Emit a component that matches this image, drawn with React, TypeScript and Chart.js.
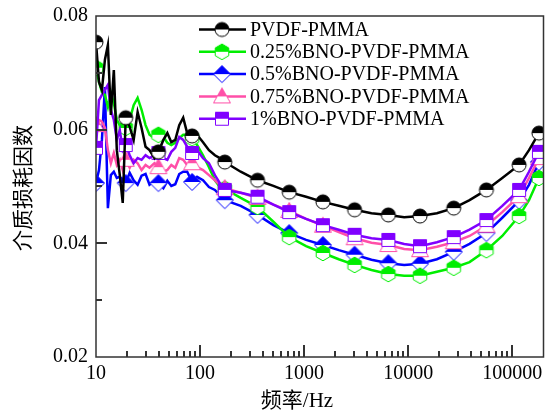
import React, { useEffect, useRef } from 'react';
import { Chart, registerables } from 'chart.js';

Chart.register(...registerables);

const frequencies = [10, 10.68, 11.4, 12.18, 13.01, 13.89, 14.84, 15.85, 16.93, 18.07, 19.31, 21.08, 23.01, 25.12, 27.42, 29.94, 32.68, 36.47, 39.81, 44.43, 48.5, 52.95, 57.8, 63.1, 68.88, 75.2, 83.92, 93.64, 106.8, 121.8, 138.9, 155.1, 173, 245.8, 356.8, 506.7, 719.7, 1045, 1517, 2154, 3059, 4443, 6450, 9161, 13010, 18890, 27420, 38950, 56550, 80300, 116600, 145100, 180700];

const pvdfPmma = [0.0754, 0.0684, 0.0670, 0.0723, 0.0749, 0.0626, 0.0705, 0.0564, 0.0520, 0.0471, 0.0621, 0.0605, 0.0582, 0.0631, 0.0603, 0.0570, 0.0564, 0.0550, 0.0561, 0.0582, 0.0594, 0.0578, 0.0582, 0.0608, 0.0621, 0.0594, 0.0589, 0.0591, 0.0578, 0.0564, 0.0555, 0.0550, 0.0543, 0.0526, 0.0511, 0.0501, 0.0490, 0.0482, 0.0473, 0.0466, 0.0459, 0.0453, 0.0450, 0.0446, 0.0448, 0.0453, 0.0462, 0.0476, 0.0494, 0.0515, 0.0538, 0.0564, 0.0594];
const bno025 = [0.0709, 0.0684, 0.0666, 0.0661, 0.0640, 0.0665, 0.0647, 0.0617, 0.0608, 0.0599, 0.0603, 0.0617, 0.0643, 0.0656, 0.0635, 0.0608, 0.0591, 0.0585, 0.0591, 0.0587, 0.0577, 0.0573, 0.0577, 0.0585, 0.0591, 0.0591, 0.0585, 0.0573, 0.0555, 0.0534, 0.0511, 0.0499, 0.0496, 0.0480, 0.0464, 0.0438, 0.0411, 0.0395, 0.0383, 0.0372, 0.0362, 0.0353, 0.0346, 0.0343, 0.0343, 0.0350, 0.0357, 0.0367, 0.0388, 0.0413, 0.0448, 0.0476, 0.0515];
const bno05 = [0.0506, 0.0529, 0.0582, 0.0675, 0.0462, 0.0520, 0.0526, 0.0515, 0.0517, 0.0511, 0.0506, 0.0524, 0.0511, 0.0503, 0.0519, 0.0522, 0.0503, 0.0510, 0.0506, 0.0497, 0.0510, 0.0501, 0.0504, 0.0522, 0.0526, 0.0526, 0.0508, 0.0517, 0.0511, 0.0499, 0.0494, 0.0485, 0.0476, 0.0466, 0.0450, 0.0432, 0.0418, 0.0406, 0.0397, 0.0388, 0.0380, 0.0371, 0.0365, 0.0362, 0.0364, 0.0372, 0.0385, 0.0399, 0.0418, 0.0445, 0.0475, 0.0503, 0.0543];
const bno075 = [0.0608, 0.0617, 0.0614, 0.0603, 0.0564, 0.0541, 0.0559, 0.0538, 0.0547, 0.0529, 0.0547, 0.0533, 0.0547, 0.0541, 0.0529, 0.0538, 0.0533, 0.0541, 0.0534, 0.0526, 0.0529, 0.0538, 0.0533, 0.0550, 0.0547, 0.0538, 0.0541, 0.0534, 0.0529, 0.0520, 0.0511, 0.0503, 0.0497, 0.0489, 0.0480, 0.0468, 0.0457, 0.0443, 0.0431, 0.0420, 0.0409, 0.0401, 0.0397, 0.0390, 0.0388, 0.0394, 0.0402, 0.0413, 0.0431, 0.0455, 0.0483, 0.0515, 0.0550];
const bno1 = [0.0568, 0.0652, 0.0661, 0.0670, 0.0679, 0.0635, 0.0617, 0.0582, 0.0599, 0.0564, 0.0573, 0.0555, 0.0541, 0.0550, 0.0547, 0.0555, 0.0550, 0.0555, 0.0559, 0.0550, 0.0547, 0.0561, 0.0568, 0.0587, 0.0582, 0.0570, 0.0559, 0.0564, 0.0550, 0.0541, 0.0520, 0.0506, 0.0494, 0.0489, 0.0482, 0.0468, 0.0455, 0.0443, 0.0432, 0.0424, 0.0415, 0.0409, 0.0406, 0.0399, 0.0395, 0.0402, 0.0411, 0.0424, 0.0441, 0.0466, 0.0494, 0.0526, 0.0561];

const markerIndices = [0, 10, 18, 26, 32, 34, 36, 38, 40, 42, 44, 46, 48, 50, 52];

const seriesLabels = ['PVDF-PMMA', '0.25%BNO-PVDF-PMMA', '0.5%BNO-PVDF-PMMA', '0.75%BNO-PVDF-PMMA', '1%BNO-PVDF-PMMA'];
const seriesColors = ['#000000', '#00ee00', '#0000ff', '#ff4fa8', '#8000ff'];
const seriesShapes = ['circle', 'hexagon', 'diamond', 'triangle', 'square'];
const seriesOrder = [0, 3, 4, 2, 1];

const xTickLabels = [10, 100, 1000, 10000, 100000];
const yTickLabels = [0.02, 0.04, 0.06, 0.08];
const yMinorTicks = [0.03, 0.05, 0.07];
const xTitle = '频率/Hz';
const yTitle = '介质损耗因数';

const SERIF = "'Liberation Serif', 'Times New Roman', 'Noto Sans CJK SC', serif";

function makeMarker(shape: string, color: string): HTMLCanvasElement {
  const s = 22;
  const c = document.createElement('canvas');
  c.width = s;
  c.height = s;
  const ctx = c.getContext('2d')!;
  const cx = s / 2;
  const cy = s / 2;
  const path = () => {
    ctx.beginPath();
    if (shape === 'circle') {
      ctx.arc(cx, cy, 7, 0, Math.PI * 2);
    } else if (shape === 'hexagon') {
      for (let i = 0; i < 6; i++) {
        const a = -Math.PI / 2 + (i * Math.PI) / 3;
        const px = cx + 7.8 * Math.cos(a);
        const py = cy + 7.8 * Math.sin(a);
        if (i === 0) ctx.moveTo(px, py);
        else ctx.lineTo(px, py);
      }
      ctx.closePath();
    } else if (shape === 'diamond') {
      ctx.moveTo(cx, cy - 8.5);
      ctx.lineTo(cx + 8.5, cy);
      ctx.lineTo(cx, cy + 8.5);
      ctx.lineTo(cx - 8.5, cy);
      ctx.closePath();
    } else if (shape === 'triangle') {
      ctx.moveTo(cx, cy - 8.5);
      ctx.lineTo(cx + 8.5, cy + 6.5);
      ctx.lineTo(cx - 8.5, cy + 6.5);
      ctx.closePath();
    } else {
      ctx.rect(cx - 6.5, cy - 6.5, 13, 13);
    }
  };
  path();
  ctx.fillStyle = '#ffffff';
  ctx.fill();
  ctx.save();
  ctx.beginPath();
  ctx.rect(0, 0, s, cy);
  ctx.clip();
  path();
  ctx.fillStyle = color;
  ctx.fill();
  ctx.restore();
  path();
  ctx.strokeStyle = color;
  ctx.lineWidth = 1;
  ctx.stroke();
  return c;
}

export default function App() {
  const canvasRef = useRef<HTMLCanvasElement | null>(null);

  useEffect(() => {
    const canvas = canvasRef.current;
    if (!canvas) return;
    const allSeries = [pvdfPmma, bno025, bno05, bno075, bno1];
    const markers = seriesShapes.map((sh, i) => makeMarker(sh, seriesColors[i]));
    const markerSet = new Set(markerIndices);

    const datasets = allSeries.map((arr, i) => ({
      label: seriesLabels[i],
      data: frequencies.map((f, j) => ({ x: f, y: arr[j] })),
      borderColor: seriesColors[i],
      backgroundColor: seriesColors[i],
      borderWidth: 2.5,
      tension: 0,
      order: seriesOrder[i],
      pointStyle: markers[i],
      pointRadius: (ctx: any) => (markerSet.has(ctx.dataIndex) ? 7 : 0),
      pointHoverRadius: 0,
    }));

    const decorPlugin = {
      id: 'decor',
      afterDraw(chart: any) {
        const { ctx, chartArea } = chart;
        const xs = chart.scales.x;
        const ys = chart.scales.y;
        const L = Math.round(chartArea.left);
        const B = Math.round(chartArea.bottom);
        ctx.save();
        ctx.strokeStyle = '#333333';
        ctx.lineWidth = 1.5;
        ctx.strokeRect(chartArea.left, chartArea.top, chartArea.right - chartArea.left, chartArea.bottom - chartArea.top);
        ctx.fillStyle = '#333333';
        // x ticks: decades with minor subdivisions, drawn inward
        for (let d = 0; d < xTickLabels.length; d++) {
          const dec = xTickLabels[d];
          for (let m = 1; m <= 9; m++) {
            const v = dec * m;
            if (v <= 10 || v >= 200000) continue;
            const px = Math.round(xs.getPixelForValue(v));
            const len = m === 1 ? 12 : 6;
            ctx.fillRect(px - 1, B - len, 2, len);
          }
        }
        yTickLabels.forEach((v) => {
          if (v <= 0.02 + 1e-9 || v >= 0.08 - 1e-9) return;
          const py = Math.round(ys.getPixelForValue(v));
          ctx.fillRect(L, py - 1, 11, 2);
        });
        yMinorTicks.forEach((v) => {
          const py = Math.round(ys.getPixelForValue(v));
          ctx.fillRect(L, py - 1, 6, 2);
        });

        // axis titles
        ctx.fillStyle = '#000';
        ctx.font = `21px ${SERIF}`;
        ctx.textAlign = 'center';
        ctx.textBaseline = 'middle';
        ctx.fillText(xTitle, 297, 401);
        ctx.save();
        ctx.translate(24, 188);
        ctx.rotate(-Math.PI / 2);
        ctx.fillText(yTitle, 0, 0);
        ctx.restore();

        // legend
        ctx.font = `20px ${SERIF}`;
        ctx.textAlign = 'left';
        seriesLabels.forEach((lab, i) => {
          const y = 29.5 + i * 22.3;
          ctx.strokeStyle = seriesColors[i];
          ctx.lineWidth = 2.5;
          ctx.beginPath();
          ctx.moveTo(199, y);
          ctx.lineTo(246, y);
          ctx.stroke();
          const m = markers[i];
          ctx.drawImage(m, 222 - m.width / 2, y - m.height / 2);
          ctx.fillStyle = '#000';
          ctx.fillText(lab, 250, y + 1);
        });
        ctx.restore();
      },
    };

    const chart = new Chart(canvas, {
      type: 'line',
      data: { datasets: datasets as any },
      options: {
        responsive: false,
        animation: false,
        events: [],
        layout: { padding: { left: 0, right: 6, top: 16, bottom: 0 } },
        plugins: { legend: { display: false }, tooltip: { enabled: false } },
        scales: {
          x: {
            type: 'logarithmic',
            min: 10,
            max: 200000,
            grid: { display: false, drawTicks: false },
            border: { display: false },
            ticks: {
              autoSkip: false,
              maxRotation: 0,
              minRotation: 0,
              padding: 5,
              color: '#000',
              font: { family: SERIF, size: 20 },
              callback: (v: any) => (xTickLabels.some((t) => Math.abs(t - Number(v)) < 1e-6) ? String(Number(v)) : ''),
            },
            afterFit: (s: any) => {
              s.height = 57;
              s.paddingLeft = 0;
              s.paddingRight = 0;
            },
          },
          y: {
            type: 'linear',
            min: 0.02,
            max: 0.08,
            grid: { display: false, drawTicks: false },
            border: { display: false },
            ticks: {
              stepSize: 0.01,
              padding: 8,
              color: '#000',
              font: { family: SERIF, size: 20 },
              callback: (v: any) => (yTickLabels.some((t) => Math.abs(t - Number(v)) < 1e-9) ? Number(v).toFixed(2) : ''),
            },
            afterFit: (s: any) => {
              s.width = 96;
              s.paddingTop = 0;
              s.paddingBottom = 0;
            },
          },
        },
      } as any,
      plugins: [decorPlugin],
    });
    return () => chart.destroy();
  }, []);

  return (
    <canvas
      ref={canvasRef}
      width={553}
      height={414}
      style={{ position: 'absolute', left: 0, top: 0, width: 553, height: 414, background: '#fff' }}
    />
  );
}
